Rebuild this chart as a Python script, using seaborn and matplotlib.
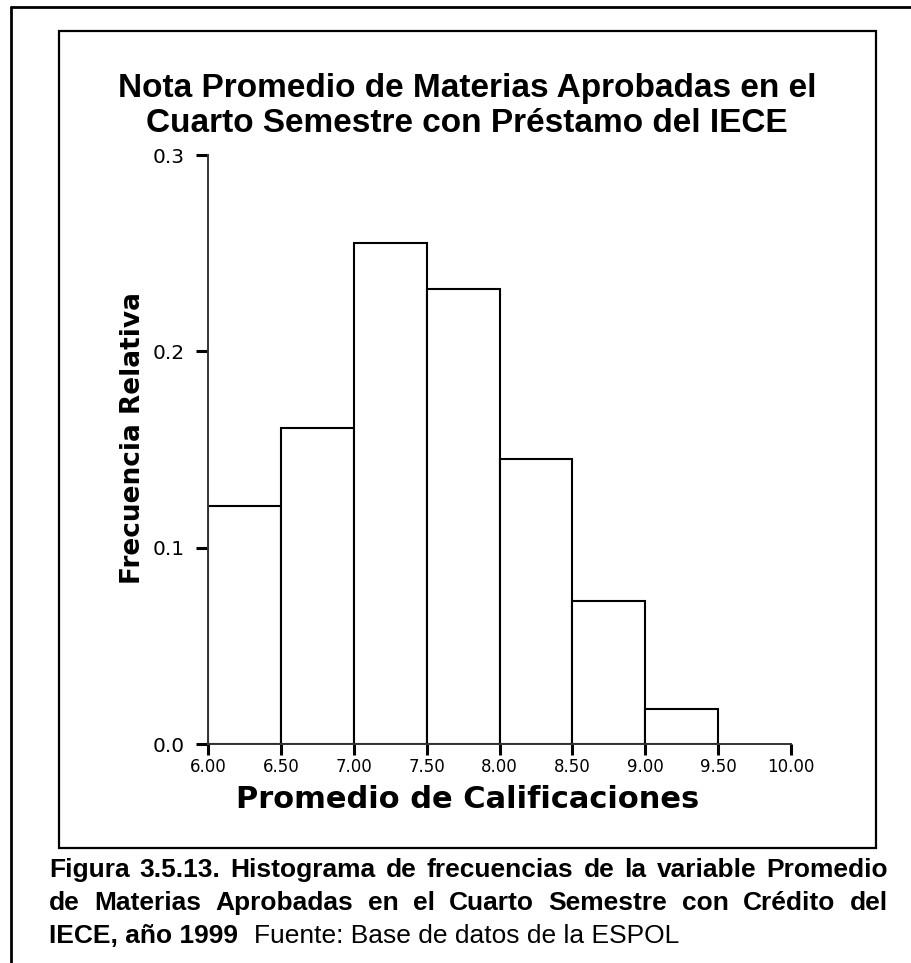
import matplotlib
matplotlib.use("Agg")
import matplotlib.pyplot as plt
from matplotlib.lines import Line2D
import numpy as np
import pandas as pd
import seaborn as sns

# Relative frequency per grade interval
bin_edges = [6.0, 6.5, 7.0, 7.5, 8.0, 8.5, 9.0, 9.5]
rel_freq = [0.121, 0.161, 0.255, 0.232, 0.145, 0.073, 0.018]
x_ticks = [6.0, 6.5, 7.0, 7.5, 8.0, 8.5, 9.0, 9.5, 10.0]
x_tick_labels = ["6.00", "6.50", "7.00", "7.50", "8.00", "8.50", "9.00", "9.50", "10.00"]
y_ticks = [0.0, 0.1, 0.2, 0.3]
y_tick_labels = ["0.0", "0.1", "0.2", "0.3"]

title_lines = ["Nota Promedio de Materias Aprobadas en el",
               "Cuarto Semestre con Préstamo del IECE"]
x_label = "Promedio de Calificaciones"
y_label = "Frecuencia Relativa"
caption_lines = [
    "Figura 3.5.13. Histograma de frecuencias de la variable Promedio",
    "de Materias Aprobadas en el Cuarto Semestre con Crédito del",
]
caption_last_bold = "IECE, año 1999"
caption_last_plain = "Fuente: Base de datos de la ESPOL"

sns.set_style("white")
plt.rcParams["font.family"] = ["Liberation Sans", "DejaVu Sans"]
plt.rcParams["text.color"] = "black"

W, H = 912, 963
fig = plt.figure(figsize=(W / 100, H / 100), dpi=100)
fig.patch.set_facecolor("white")


def fx(px):
    return px / W


def fy(py):
    return 1 - py / H


# Frames around the chart and the whole page
fig.add_artist(Line2D([fx(11.5), fx(912)], [fy(7.5), fy(7.5)], color="black", lw=2.0))
fig.add_artist(Line2D([fx(11.5), fx(11.5)], [fy(7.5), fy(963)], color="black", lw=2.0))
fig.add_artist(plt.Rectangle((fx(59), fy(848)), fx(876) - fx(59), fy(31.5) - fy(848),
                             transform=fig.transFigure, fill=False,
                             edgecolor="black", lw=1.6))

ax = fig.add_axes([fx(208), fy(744), fx(791) - fx(208), fy(155) - fy(744)])
df = pd.DataFrame({"mid": [(a + b) / 2 for a, b in zip(bin_edges[:-1], bin_edges[1:])],
                   "freq": rel_freq})
sns.histplot(data=df, x="mid", weights="freq", bins=bin_edges, stat="count",
             color="white", edgecolor="black", linewidth=1.5, alpha=1.0, ax=ax)

ax.set_xlim(6.0, 10.0)
ax.set_ylim(0.0, 0.3)
ax.set_xticks(x_ticks)
ax.set_xticklabels(x_tick_labels, fontsize=12, family="DejaVu Sans", color="black")
ax.set_yticks(y_ticks)
ax.set_yticklabels(y_tick_labels, fontsize=14.5, family="DejaVu Sans", color="black")
ax.set_xlabel("")
ax.set_ylabel("")
for s in ["top", "right"]:
    ax.spines[s].set_visible(False)
for s in ["left", "bottom"]:
    ax.spines[s].set_color("#333333")
    ax.spines[s].set_linewidth(1.4)
ax.tick_params(axis="y", left=True, direction="out", length=8.5, width=2.2,
               color="black", pad=8)
ax.tick_params(axis="x", bottom=True, direction="out", length=8, width=2.2,
               color="black", pad=2)
ax.set_facecolor("white")

# Titles and axis labels
fig.text(fx(467), fy(97), title_lines[0], ha="center", va="baseline",
         fontsize=24, fontweight="bold")
fig.text(fx(467), fy(132), title_lines[1], ha="center", va="baseline",
         fontsize=24, fontweight="bold")
fig.text(fx(468), fy(808), x_label, ha="center", va="baseline",
         fontsize=22, fontweight="bold", family="DejaVu Sans")
fig.text(fx(133), fy(438), y_label, ha="center", va="center", rotation=90,
         fontsize=19, fontweight="bold", family="DejaVu Sans")

# Justified caption below the chart frame
fig.canvas.draw()
renderer = fig.canvas.get_renderer()
cap_left, cap_right = 49, 888
cap_size = 19
baselines = [877, 910, 943]
for line, base in zip(caption_lines, baselines[:2]):
    words = line.split(" ")
    texts = [fig.text(0, fy(base), w, fontsize=cap_size, fontweight="bold",
                      va="baseline", ha="left") for w in words]
    widths = [t.get_window_extent(renderer).width for t in texts]
    gap = (cap_right - cap_left - sum(widths)) / (len(words) - 1)
    xpos = cap_left
    for t, w in zip(texts, widths):
        t.set_x(fx(xpos))
        xpos += w + gap
t1 = fig.text(fx(cap_left), fy(baselines[2]), caption_last_bold, fontsize=cap_size,
              fontweight="bold", va="baseline", ha="left")
w1 = t1.get_window_extent(renderer).width
fig.text(fx(cap_left + w1 + 16), fy(baselines[2]), caption_last_plain, fontsize=cap_size,
         va="baseline", ha="left")

fig.savefig("out.png", dpi=100, facecolor="white")
